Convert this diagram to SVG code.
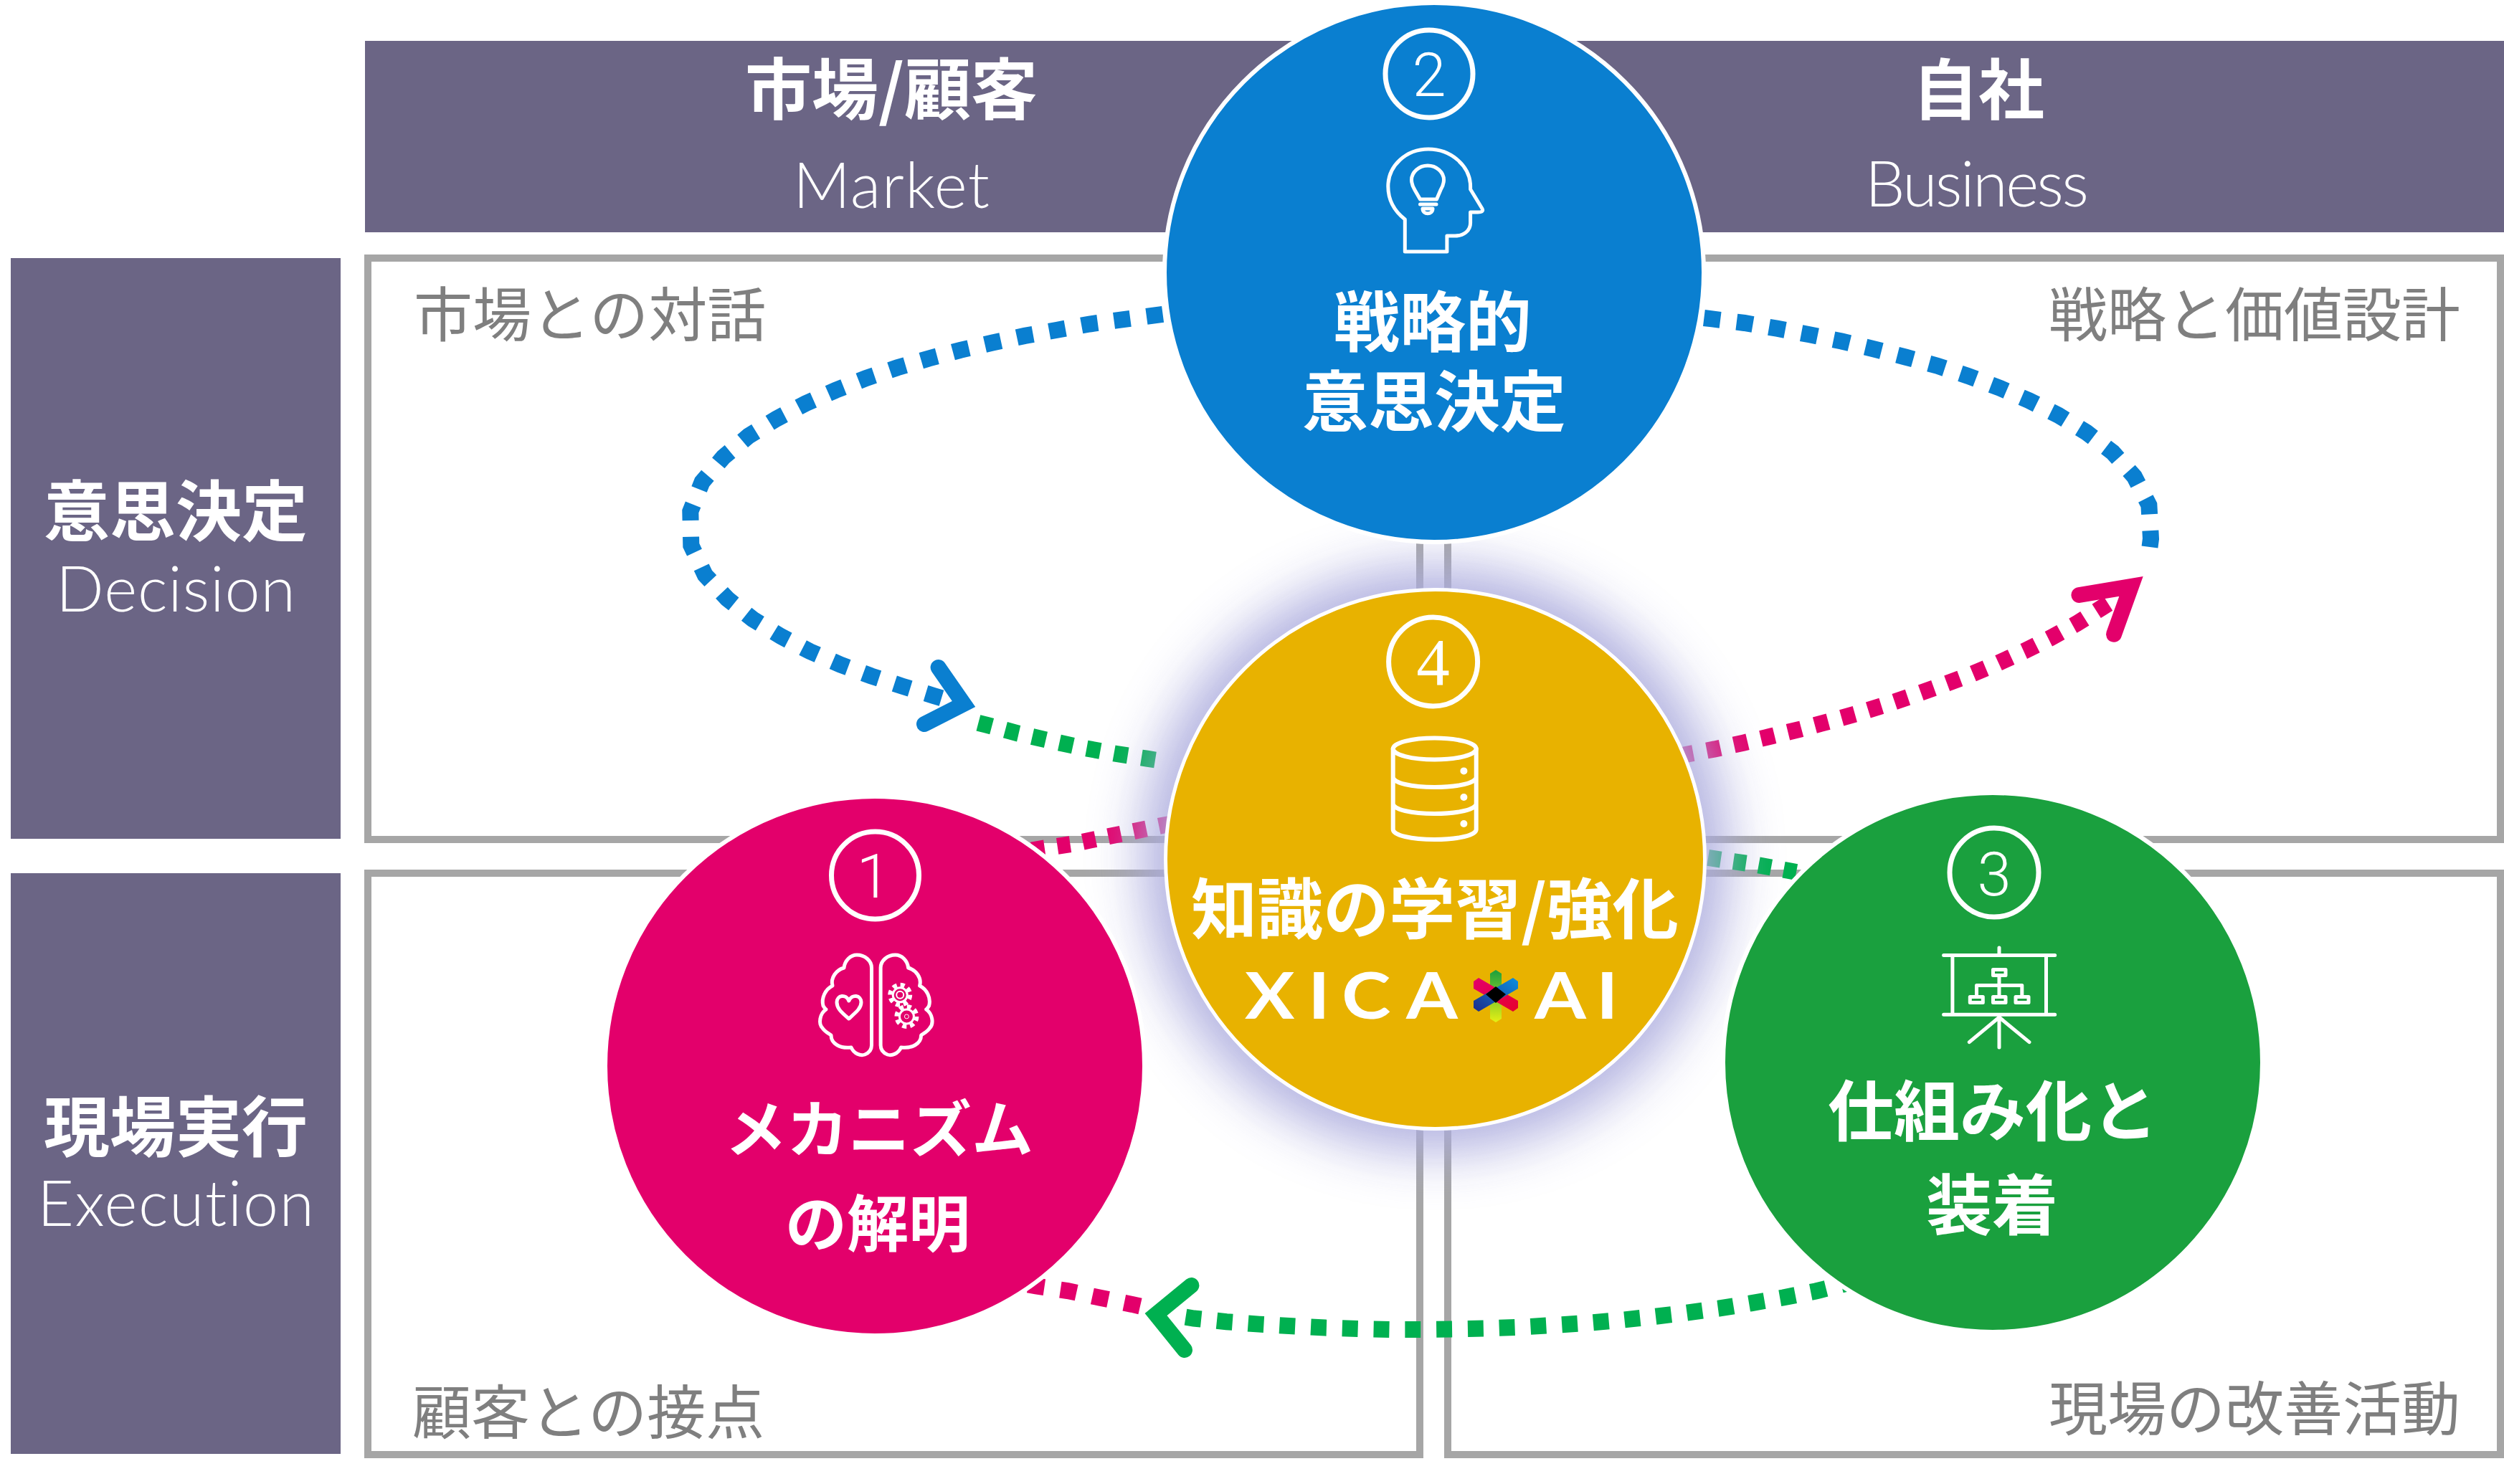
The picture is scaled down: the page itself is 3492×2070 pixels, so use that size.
<svg xmlns="http://www.w3.org/2000/svg" width="3492" height="2070" viewBox="0 0 3492 2070">
<style>
text{font-family:"Noto Sans CJK JP","Noto Sans",sans-serif}
.head{fill:#6b6585}
.frame{fill:#fff;stroke:#a6a6a6;stroke-width:10}
.jp{font-size:92px;font-weight:700;fill:#fff;text-anchor:middle}
.kana{font-size:86px}
.en{font-family:"Lato","Noto Sans",sans-serif;font-size:88px;font-weight:300;fill:#fff;text-anchor:middle;font-variant-ligatures:none}
.sub{font-size:82px;font-weight:400;fill:#7f7f7f}
.dot{fill:none;stroke-width:23;stroke-dasharray:1 1}
.arrow{fill:none;stroke-width:22;stroke-linecap:round;stroke-linejoin:miter;stroke-miterlimit:10}
.ring{fill:none;stroke:#fff;stroke-width:7}
.num{font-family:"Roboto","Lato",sans-serif;font-size:85px;font-weight:300;fill:#fff;text-anchor:middle}
.ic{fill:none;stroke:#fff;stroke-width:5;stroke-linejoin:round;stroke-linecap:round}
.disc{stroke:#fff;stroke-width:6}
.logo{font-family:"Lato","Noto Sans",sans-serif;font-size:90px;font-weight:700;fill:#fff}
</style>
<defs>
<filter id="glow" x="-30%" y="-30%" width="160%" height="160%"><feGaussianBlur stdDeviation="38"/></filter>
<linearGradient id="starV" x1="0" y1="0" x2="0" y2="1"><stop offset="0" stop-color="#1aa03e"/><stop offset="1" stop-color="#e6f014"/></linearGradient>
<linearGradient id="starA" x1="0" y1="0" x2="1" y2="1"><stop offset="0" stop-color="#e3006b"/><stop offset="1" stop-color="#e6002d"/></linearGradient>
<linearGradient id="starB" x1="1" y1="0" x2="0" y2="1"><stop offset="0" stop-color="#0a8fe0"/><stop offset="1" stop-color="#1c2c8c"/></linearGradient>
</defs>
<rect width="3492" height="2070" fill="#fff"/>
<g id="header-market"><rect class="head" x="509" y="57" width="1400" height="267"/><text class="jp" x="1243" y="159" style="font-size:93px">市場/顧客</text><text class="en" x="1243" y="290" textLength="274">Market</text></g>
<g id="header-business"><rect class="head" x="2100" y="57" width="1392" height="267"/><text class="jp" x="2759" y="159">自社</text><text class="en" x="2757" y="288" textLength="312">Business</text></g>
<g id="row-decision"><rect class="head" x="15" y="360" width="460" height="810"/><text class="jp" x="245" y="747">意思決定</text><text class="en" x="245" y="853" textLength="334">Decision</text></g>
<g id="row-execution"><rect class="head" x="15" y="1218" width="460" height="810"/><text class="jp" x="245" y="1606">現場実行</text><text class="en" x="245" y="1710" textLength="386">Execution</text></g>
<g id="quadrant-tl"><rect class="frame" x="513" y="360" width="1467" height="811"/><text class="sub" x="577" y="469">市場との対話</text></g>
<g id="quadrant-tr"><rect class="frame" x="2019" y="360" width="1468" height="811"/><text class="sub" x="3431" y="469" text-anchor="end">戦略と価値設計</text></g>
<g id="quadrant-bl"><rect class="frame" x="513" y="1218" width="1467" height="811"/><text class="sub" x="575" y="2000">顧客との接点</text></g>
<g id="quadrant-br"><rect class="frame" x="2019" y="1218" width="1468" height="811"/><text class="sub" x="3431" y="1995" text-anchor="end">現場の改善活動</text></g>
<g id="connectors">
<path class="dot" stroke="#0a7fd0" pathLength="53" d="M1621.6 438.3L1610.2 439.8L1564.8 445.9L1519.4 452L1474.5 460.2L1429.1 468.4L1384.2 478.1L1339.3 488.3L1295.4 500L1251.5 512.8L1207.7 527.6L1165.3 544.4L1123.5 562.8L1082.7 584.2L1043.9 608.2L1008.7 637.8L979.1 672.4L962.8 713.3L963.8 760.7L983.2 802L1014.3 835.2L1050 863.8L1089.3 887.8L1129.6 908.7L1171.9 927L1214.8 942.9L1258.2 957.1L1302 970.4L1313 973.7"/>
<path class="dot" stroke="#0a7fd0" pathLength="33" d="M2376.4 443.5L2387.8 444.9L2432.7 450.5L2478.1 458.2L2523.5 466.8L2568.4 476L2612.8 486.7L2657.1 498L2701.5 510.2L2744.9 524.5L2787.8 540.8L2829.6 558.7L2870.4 579.1L2909.7 603.1L2946.4 631.1L2976.5 664.8L2996.9 704.6L2999.5 751.5L2998 763"/>
<path class="dot" stroke="#00b050" pathLength="13" d="M1364.4 1008.3L1375.5 1011.2L1419.9 1023L1464.3 1033.2L1509.2 1042.9L1554.1 1051L1599.5 1058.2L1611 1060"/>
<path class="dot" stroke="#e3006b" pathLength="33" d="M2342.3 1054.2L2353.6 1052L2391.3 1044.9L2431.1 1036.2L2471.9 1026.5L2511.7 1016.8L2551.5 1006.1L2591.3 994.9L2630.6 982.7L2669.9 969.4L2708.7 955.6L2747.4 941.3L2785.2 925.5L2823 908.2L2859.7 889.8L2895.9 869.9L2930.6 848L2940 842"/>
<path class="dot" stroke="#e3006b" pathLength="11" d="M1439 1186L1450 1184L1493.5 1177.6L1537.9 1168.4L1582.8 1159.2L1623 1151L1634 1149"/>
<path class="dot" stroke="#e3006b" pathLength="7" d="M1434 1792L1445 1794L1489 1800.5L1533 1810L1578.7 1819.4L1590 1822"/>
<path class="dot" stroke="#00b050" pathLength="43" transform="translate(0 -1.4)" d="M1653.5 1838.6L1664.9 1840.4L1710.5 1845.1L1756.1 1848.5L1802.5 1851.2L1848.1 1853.5L1893.7 1854.9L1939.3 1855.9L1984.9 1855.9L2031.2 1855.2L2076.8 1854.2L2122.5 1852.5L2168.1 1849.8L2213.7 1846.8L2260 1842.8L2305.6 1838L2351.2 1832.7L2396.8 1826.6L2441.8 1819.2L2486.7 1811.4L2532.3 1802.4L2578 1791L2589 1788"/>
<path class="dot" stroke="#00b050" pathLength="9" d="M2347 1191L2358 1193L2403 1199.5L2448.4 1206.1L2493.3 1214.3L2505 1216.5"/>
<path class="arrow" stroke="#0a7fd0" d="M1308.6 931L1344 982L1289 1010"/>
<path class="arrow" stroke="#e3006b" d="M2899.5 830L2972 818L2948 884.7"/>
<path class="arrow" stroke="#00b050" d="M1661.4 1793L1612 1833.5L1652 1883"/>
</g>
<g id="node-4">
<circle cx="2001.5" cy="1198.5" r="408" fill="#acacde" opacity=".95" filter="url(#glow)"/>
<circle cx="2001.5" cy="1198.5" r="376" fill="#e8b200" stroke="#fff" stroke-width="5"/>
<circle class="ring" cx="1998.6" cy="923" r="62"/>
<text x="1998.6" y="954.5" text-anchor="middle" style="font-family:'Liberation Serif',serif;font-size:93px;fill:#fff">4</text>
<g class="ic" style="stroke-width:6"><ellipse cx="2000.7" cy="1044.5" rx="58" ry="15"/><path d="M1942.7 1044.5V1157C1942.7 1165 1968 1171 2000.7 1171S2058.7 1165 2058.7 1157V1044.5M1942.7 1084C1942.7 1092 1968 1098 2000.7 1098S2058.7 1092 2058.7 1084M1942.7 1121C1942.7 1129 1968 1135 2000.7 1135S2058.7 1129 2058.7 1121"/></g>
<g fill="#fff"><circle cx="2041.4" cy="1075.4" r="5"/><circle cx="2041.4" cy="1112" r="5"/><circle cx="2041.4" cy="1149" r="5"/></g>
<text class="jp" x="2001" y="1302">知識の学習/強化</text>
<text class="logo" transform="translate(1736 1421) scale(1.15 1)" y="0" x="0 76.5 117.4 195.7">XICA</text>
<g id="logo-star"><polygon points="2086,1353 2094,1358 2094,1421 2086,1426 2078,1421 2078,1358" fill="url(#starV)"/><polygon points="2055,1369 2062,1364 2117,1396 2117,1406 2110,1411 2055,1379" fill="url(#starA)"/><polygon points="2117,1369 2110,1364 2055,1396 2055,1406 2062,1411 2117,1379" fill="url(#starB)"/><polygon points="2086,1376 2100,1387 2086,1399 2072,1387" fill="#000"/></g>
<text class="logo" transform="translate(2140 1421) scale(1.15 1)" y="0" x="0 74.8">AI</text>
</g>
<g id="node-1">
<circle class="disc" cx="1220" cy="1487" r="376" fill="#e3006b"/>
<circle class="ring" cx="1220.5" cy="1221" r="61"/>
<text class="num" x="1218" y="1252">1</text>
<g class="ic"><path d="M1215.5 1350C1215.5 1340 1206 1332 1195 1332C1186 1332 1178 1340 1177 1350C1166 1353 1158 1364 1161 1375C1151 1380 1145 1392 1148 1403C1151 1408 1152 1408 1152 1408C1143 1414 1141 1428 1147 1434C1150 1439 1155 1441 1159 1444C1159 1456 1172 1463 1187 1461C1191 1470 1200 1473 1206 1471C1211 1469 1215.5 1465 1215.5 1458Z"/><path transform="translate(2443.6 0) scale(-1 1)" d="M1215.5 1350C1215.5 1340 1206 1332 1195 1332C1186 1332 1178 1340 1177 1350C1166 1353 1158 1364 1161 1375C1151 1380 1145 1392 1148 1403C1151 1408 1152 1408 1152 1408C1143 1414 1141 1428 1147 1434C1150 1439 1155 1441 1159 1444C1159 1456 1172 1463 1187 1461C1191 1470 1200 1473 1206 1471C1211 1469 1215.5 1465 1215.5 1458Z"/><path d="M1183.8 1421C1172 1411 1167 1406 1167 1398C1167 1388 1180 1386 1183.8 1396C1188 1386 1201 1388 1201 1398C1201 1406 1195 1411 1183.8 1421Z"/></g>
<g fill="none" stroke="#fff"><circle cx="1255.2" cy="1387.8" r="14" stroke-width="6" stroke-dasharray="6 5"/><circle cx="1255.2" cy="1387.8" r="10" stroke-width="3"/><circle cx="1255.2" cy="1387.8" r="5" stroke-width="2"/><circle cx="1264.4" cy="1417.9" r="14" stroke-width="6" stroke-dasharray="6 5"/><circle cx="1264.4" cy="1417.9" r="10" stroke-width="3"/><circle cx="1264.4" cy="1417.9" r="3" stroke-width="1"/></g>
<text class="jp kana"><tspan x="1226" y="1607">メカニズム</tspan><tspan x="1224" y="1739">の解明</tspan></text>
</g>
<g id="node-2">
<circle class="disc" cx="2000" cy="380" r="376" fill="#0a7fd0"/>
<circle class="ring" cx="1993" cy="103" r="61"/>
<text class="num" x="1993" y="134">2</text>
<g class="ic"><path d="M1959.3 351V306C1944 294 1935.8 278 1935.8 260C1935.8 231 1961 208 1992 208C2024 208 2050.6 232 2050.6 260V264L2067 291C2069 295 2066 296 2061 296H2050.6V311C2050.6 322 2041 329 2029.3 329H2017.9V351Z"/><path d="M1980.5 278L1973 265C1970 260 1968.5 256 1968.5 251C1968.5 240 1979 231 1991 231C2003 231 2013.5 240 2013.5 251C2013.5 256 2012 260 2009 265L2003.5 278ZM1980.5 285H2003M1984 291C1984 300 1998 300 1998 291Z"/></g>
<text class="jp"><tspan x="1998" y="483">戦略的</tspan><tspan x="2000" y="594">意思決定</tspan></text>
</g>
<g id="node-3">
<circle class="disc" cx="2779" cy="1482" r="376" fill="#1aa03e"/>
<circle class="ring" cx="2781" cy="1217" r="62"/>
<text class="num" x="2781" y="1249">3</text>
<g class="ic"><path d="M2710.6 1332.6H2865.7M2710.6 1415.3H2865.7M2722.9 1332.6V1415.3M2853.5 1332.6V1415.3M2788 1322V1332.6M2788 1415.3V1461M2788 1419L2746.3 1453.6M2788 1419L2830 1453.6M2788 1362.8V1388M2756.5 1388V1374.5H2819.8V1388"/><rect x="2779.5" y="1352.5" width="17.5" height="8"/><rect x="2747.3" y="1390.5" width="18" height="8"/><rect x="2779.5" y="1390.5" width="17.5" height="8"/><rect x="2811" y="1390.5" width="18" height="8"/></g>
<text class="jp"><tspan x="2779" y="1584">仕組み化と</tspan><tspan x="2778" y="1715">装着</tspan></text>
</g>
</svg>
